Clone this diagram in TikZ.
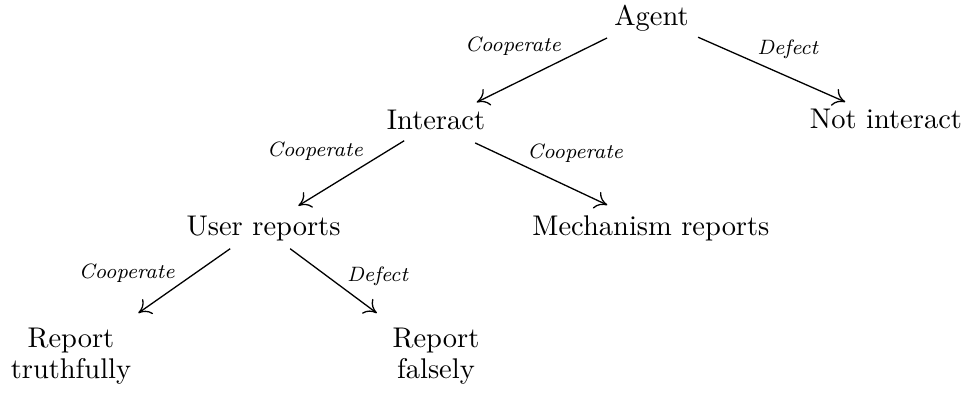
\documentclass[tikz,border=0pt]{standalone}
\usepackage{amssymb}
\usepackage{amsmath}
\usetikzlibrary{arrows.meta}

\tikzset{
   stage/.style={font=\fontsize{10.95}{11.9}\selectfont, align=center},
   choice/.style={font=\fontsize{8}{9.5}\selectfont\itshape, inner sep=1pt},
   edgeline/.style={line width=0.5pt, -{Computer Modern Rightarrow[length=4.6pt, width=7pt]}}
}

\begin{document}
\begin{tikzpicture}
   \useasboundingbox (0,0) rectangle (13.095,-5.351);
   \path (8.804,-0.253) node[stage] (Agent) {Agent};
   \path (5.892,-1.622) node[stage] (Interact) {Interact};
   \path (11.973,-1.608) node[stage] (NotInteract) {Not interact};
   \path (3.561,-3.091) node[stage] (UserRep) {User reports};
   \path (8.797,-3.091) node[stage] (MechRep) {Mechanism reports};
   \path (0.959,-4.811) node[stage] (Truthful) {Report\\truthfully};
   \path (5.892,-4.811) node[stage] (False) {Report\\falsely};

   \draw[edgeline] ([shift={(-0.60,-0.26)}]Agent.center) -- ([shift={(0.55,0.24)}]Interact.center)
      node[choice, pos=0.33, anchor=south east] {Cooperate};
   \draw[edgeline] ([shift={(0.63,-0.25)}]Agent.center) -- ([shift={(-0.55,0.23)}]NotInteract.center)
      node[choice, pos=0.38, anchor=south west] {Defect};
   \draw[edgeline] ([shift={(-0.43,-0.28)}]Interact.center) -- ([shift={(0.47,0.31)}]UserRep.center)
      node[choice, pos=0.36, anchor=south east] {Cooperate};
   \draw[edgeline] ([shift={(0.53,-0.31)}]Interact.center) -- ([shift={(-0.59,0.32)}]MechRep.center)
      node[choice, pos=0.37, anchor=south west] {Cooperate};
   \draw[edgeline] ([shift={(-0.45,-0.27)}]UserRep.center) -- ([shift={(0.91,0.58)}]Truthful.center)
      node[choice, pos=0.57, anchor=south east] {Cooperate};
   \draw[edgeline] ([shift={(0.36,-0.27)}]UserRep.center) -- ([shift={(-0.80,0.58)}]False.center)
      node[choice, pos=0.62, anchor=south west] {Defect};
\end{tikzpicture}
\end{document}
